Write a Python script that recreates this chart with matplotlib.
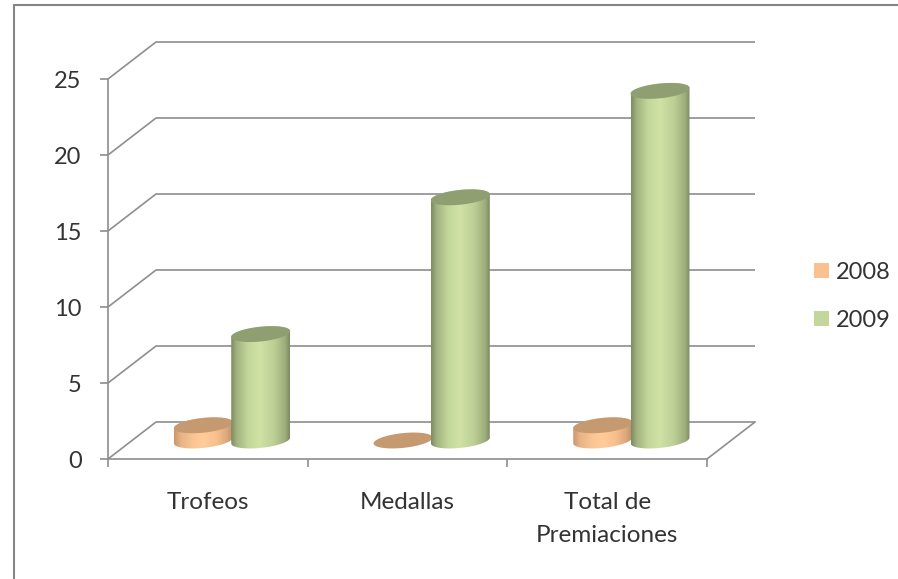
import numpy as np
import matplotlib
matplotlib.use("Agg")
import matplotlib.pyplot as plt
from matplotlib.colors import LinearSegmentedColormap
from matplotlib.lines import Line2D
from matplotlib.patches import Patch, PathPatch
from matplotlib.path import Path

categories = ["Trofeos", "Medallas", "Total de\nPremiaciones"]
series_names = ["2008", "2009"]
values_2008 = [1, 0, 1]
values_2009 = [7, 16, 23]
y_ticks = [0, 5, 10, 15, 20, 25]

plt.rcParams["font.family"] = ["Lato", "DejaVu Sans"]
W, H = 898, 579
GRID = "#8e8e8e"
TEXT = "#333333"

fig = plt.figure(figsize=(W / 100, H / 100), dpi=100, facecolor="white")
ax = fig.add_axes([108 / W, (H - 459) / H, 599 / W, 380 / H])
ax.set_xlim(0, 3)
ax.set_ylim(0, 25)
ax.patch.set_visible(False)

# depth of the 3D box, in data units
depth_x = 48 / (599 / 3)
depth_y = 37 / (380 / 25)

for s in ("top", "right"):
    ax.spines[s].set_visible(False)
for s in ("left", "bottom"):
    ax.spines[s].set_color(GRID)
    ax.spines[s].set_linewidth(1.2)

for v in y_ticks:
    ax.plot([0, depth_x, 3 + depth_x], [v, v + depth_y, v + depth_y],
            color=GRID, lw=1.2, clip_on=False, zorder=1, solid_capstyle="butt")
ax.plot([3, 3 + depth_x], [0, depth_y], color=GRID, lw=1.2, clip_on=False, zorder=1)

ax.set_yticks(y_ticks)
ax.set_yticklabels([str(v) for v in y_ticks], fontsize=17, color=TEXT)
ax.tick_params(axis="y", length=6, width=1.2, color=GRID, pad=13)
ax.set_xticks(range(4))
ax.set_xticklabels([])
ax.set_xticks(np.arange(3) + 0.5, minor=True)
ax.set_xticklabels(categories, minor=True, fontsize=17.5, color=TEXT, linespacing=1.7)
ax.tick_params(axis="x", which="major", length=6, width=1.2, color=GRID)
ax.tick_params(axis="x", which="minor", length=0, pad=24)

bar_w = 0.295
half_w = bar_w / 2
minor_y = 7.4 / (380 / 25)
shear_y = 2.9 / (380 / 25)


def ellipse_xy(cx, cy, t, half=half_w):
    return (cx + half * np.cos(t),
            cy + minor_y * np.sin(t) + shear_y * np.cos(t))


def cylinder(cx, value, base, face, cap, z):
    t_low = np.linspace(np.pi, 2 * np.pi, 60)
    t_up = np.linspace(0, np.pi, 60)
    xb, yb = ellipse_xy(cx, base, t_low)
    xt, yt = ellipse_xy(cx, base + value, t_up)
    body = np.column_stack([np.r_[xb, xt], np.r_[yb, yt]])
    if value > 0:
        path = Path(np.vstack([body, body[:1]]), closed=True)
        im = ax.imshow(np.linspace(0, 1, 256)[None, :], cmap=face, aspect="auto",
                       extent=(cx - half_w, cx + half_w, base - 2, base + value + 2),
                       zorder=z, interpolation="bilinear")
        im.set_clip_box(None)
        im.set_clip_path(path, ax.transData)
    t = np.linspace(0, 2 * np.pi, 120)
    xc, yc = ellipse_xy(cx, base + value, t)
    ax.add_patch(PathPatch(Path(np.column_stack([xc, yc]), closed=True),
                           facecolor=cap, edgecolor="none", zorder=z + 0.1, clip_on=False))


green = LinearSegmentedColormap.from_list(
    "g", [(0, "#7c8a60"), (0.1, "#a3b481"), (0.3, "#c4d79b"), (0.48, "#d0e3a5"),
          (0.72, "#bfd097"), (0.92, "#9dae7c"), (1, "#7c8a60")])
orange = LinearSegmentedColormap.from_list(
    "o", [(0, "#c9986d"), (0.12, "#e8b386"), (0.32, "#fac593"), (0.5, "#ffcc99"),
          (0.72, "#f8c08e"), (0.9, "#dca87c"), (1, "#c09068")])

base_y = depth_y / 2
for i in range(len(categories)):
    c = i + 0.5 + depth_x / 2 - 0.003
    cylinder(c - half_w + 0.008, values_2008[i], base_y, orange, "#c69a70", 3)
    cylinder(c + half_w, values_2009[i], base_y, green, "#8f9f72", 4)

ax.set_xlim(0, 3)
ax.set_ylim(0, 25)

fig.add_artist(Line2D([14 / W, 14 / W, 1], [0, 1 - 5 / H, 1 - 5 / H],
                      color="#858585", lw=1.5, solid_joinstyle="miter"))

handles = [Patch(facecolor="#fac090", edgecolor="none"),
           Patch(facecolor="#c3d69b", edgecolor="none")]
fig.legend(handles, series_names, loc="upper left",
           bbox_to_anchor=(814 / W, 1 - 262 / H), frameon=False,
           fontsize=17, labelcolor=TEXT, borderpad=0, borderaxespad=0,
           handlelength=0.62, handleheight=0.62, handletextpad=0.3,
           labelspacing=1.14)

fig.savefig("out.png", dpi=100, facecolor="white")
